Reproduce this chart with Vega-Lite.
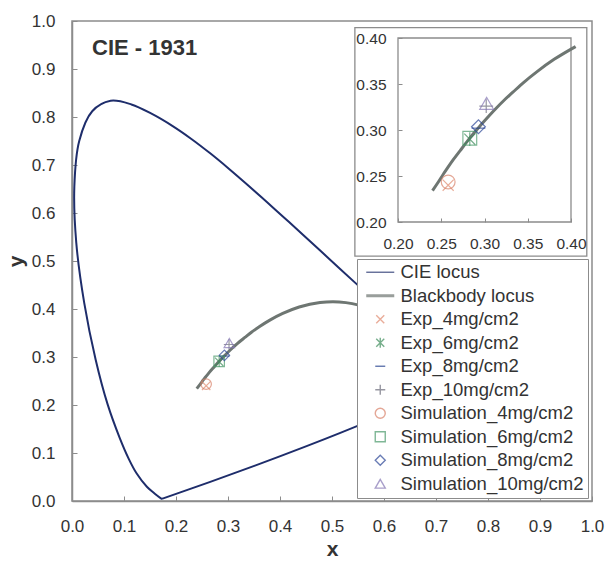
{
  "$schema": "https://vega.github.io/schema/vega-lite/v6.json",
  "autosize": {"type": "none"},
  "width": 520,
  "height": 480,
  "padding": {"left": 72, "top": 21, "right": 13, "bottom": 62},
  "background": "white",
  "title": {"text": "CIE - 1931", "anchor": "start", "frame": "group", "dx": 20, "offset": -65, "baseline": "alphabetic", "fontSize": 22, "fontWeight": "bold", "font": "Liberation Sans", "color": "#333333"},
  "config": {
    "font": "Liberation Sans",
    "view": {"stroke": "#8c8c8c", "strokeWidth": 1.5},
    "axis": {"grid": false, "labelFlush": false, "domainColor": "#8c8c8c", "tickColor": "#8c8c8c", "labelColor": "#333333", "titleColor": "#333333", "labelFont": "Liberation Sans", "titleFont": "Liberation Sans"}
  },
  "datasets": {
    "cie": [
      {"i": 1, "x": 0.1741, "y": 0.0050}, {"i": 2, "x": 0.1714, "y": 0.0051}, {"i": 3, "x": 0.1644, "y": 0.0109},
      {"i": 4, "x": 0.1566, "y": 0.0177}, {"i": 5, "x": 0.1440, "y": 0.0297}, {"i": 6, "x": 0.1241, "y": 0.0578},
      {"i": 7, "x": 0.1096, "y": 0.0868}, {"i": 8, "x": 0.0913, "y": 0.1327}, {"i": 9, "x": 0.0687, "y": 0.2007},
      {"i": 10, "x": 0.0454, "y": 0.2950}, {"i": 11, "x": 0.0235, "y": 0.4127}, {"i": 12, "x": 0.0082, "y": 0.5384},
      {"i": 13, "x": 0.0045, "y": 0.6548}, {"i": 14, "x": 0.0139, "y": 0.7502}, {"i": 15, "x": 0.0389, "y": 0.8120},
      {"i": 16, "x": 0.0743, "y": 0.8338}, {"i": 17, "x": 0.1142, "y": 0.8262}, {"i": 18, "x": 0.1547, "y": 0.8059},
      {"i": 19, "x": 0.1929, "y": 0.7816}, {"i": 20, "x": 0.2296, "y": 0.7543}, {"i": 21, "x": 0.2658, "y": 0.7243},
      {"i": 22, "x": 0.3016, "y": 0.6923}, {"i": 23, "x": 0.3373, "y": 0.6589}, {"i": 24, "x": 0.3731, "y": 0.6245},
      {"i": 25, "x": 0.4087, "y": 0.5896}, {"i": 26, "x": 0.4441, "y": 0.5547}, {"i": 27, "x": 0.4788, "y": 0.5202},
      {"i": 28, "x": 0.5125, "y": 0.4866}, {"i": 29, "x": 0.5448, "y": 0.4544}, {"i": 30, "x": 0.5752, "y": 0.4242},
      {"i": 31, "x": 0.6270, "y": 0.3725}, {"i": 32, "x": 0.6915, "y": 0.3083}, {"i": 33, "x": 0.7347, "y": 0.2653},
      {"i": 34, "x": 0.1741, "y": 0.0050}
    ],
    "bb": [
      {"x": 0.2399, "y": 0.2342}, {"x": 0.2470, "y": 0.2440}, {"x": 0.2525, "y": 0.2522}, {"x": 0.2565, "y": 0.2577},
      {"x": 0.2637, "y": 0.2674}, {"x": 0.2719, "y": 0.2776}, {"x": 0.2807, "y": 0.2884}, {"x": 0.2871, "y": 0.2959},
      {"x": 0.2952, "y": 0.3048}, {"x": 0.3064, "y": 0.3166}, {"x": 0.3135, "y": 0.3237}, {"x": 0.3221, "y": 0.3318},
      {"x": 0.3325, "y": 0.3408}, {"x": 0.3451, "y": 0.3516}, {"x": 0.3608, "y": 0.3635}, {"x": 0.3805, "y": 0.3768},
      {"x": 0.4053, "y": 0.3907}, {"x": 0.4369, "y": 0.4041}, {"x": 0.4770, "y": 0.4137}, {"x": 0.5018, "y": 0.4153},
      {"x": 0.5267, "y": 0.4133}, {"x": 0.5494, "y": 0.4085}, {"x": 0.5857, "y": 0.3931}
    ],
    "pts": [
      {"series": "Exp_4mg/cm2", "x": 0.258, "y": 0.240},
      {"series": "Exp_6mg/cm2", "x": 0.283, "y": 0.290},
      {"series": "Exp_8mg/cm2", "x": 0.293, "y": 0.302},
      {"series": "Exp_10mg/cm2", "x": 0.302, "y": 0.326},
      {"series": "Simulation_4mg/cm2", "x": 0.258, "y": 0.2435},
      {"series": "Simulation_6mg/cm2", "x": 0.283, "y": 0.291},
      {"series": "Simulation_8mg/cm2", "x": 0.293, "y": 0.3035},
      {"series": "Simulation_10mg/cm2", "x": 0.3025, "y": 0.329}
    ],
    "box": [{"x": 0.544, "x2": 0.990, "y": 0.510, "y2": 0.986}],
    "ibox": [{"x": 0.2, "x2": 0.4, "y": 0.2, "y2": 0.4}]
  },
  "layer": [
    {
      "encoding": {
        "x": {"field": "x", "type": "quantitative", "scale": {"domain": [0, 1], "nice": false, "zero": false},
              "axis": {"orient": "bottom", "values": [0, 0.1, 0.2, 0.3, 0.4, 0.5, 0.6, 0.7, 0.8, 0.9, 1.0], "format": ".1f", "tickSize": -5, "labelPadding": 22, "labelFontSize": 17, "title": "x", "titleFontSize": 21, "titleFontWeight": "bold", "titlePadding": 4, "domainWidth": 1.5}},
        "y": {"field": "y", "type": "quantitative", "scale": {"domain": [0, 1], "nice": false, "zero": false},
              "axis": {"orient": "left", "values": [0, 0.1, 0.2, 0.3, 0.4, 0.5, 0.6, 0.7, 0.8, 0.9, 1.0], "format": ".1f", "tickSize": -5, "labelPadding": 22, "labelFontSize": 17, "title": "y", "titleFontSize": 21, "titleFontWeight": "bold", "titlePadding": 5, "domainWidth": 1.5}}
      },
      "layer": [
        {
          "data": {"name": "cie"},
          "transform": [{"calculate": "'CIE locus'", "as": "series"}],
          "mark": {"type": "line", "interpolate": "catmull-rom", "strokeWidth": 2},
          "encoding": {
            "order": {"field": "i", "type": "quantitative"},
            "color": {"field": "series", "type": "nominal"}
          }
        },
        {
          "data": {"name": "bb"},
          "transform": [{"calculate": "'Blackbody locus'", "as": "series"}],
          "mark": {"type": "line", "interpolate": "monotone", "strokeWidth": 3},
          "encoding": {
            "color": {"field": "series", "type": "nominal"}
          }
        },
        {
          "data": {"name": "pts"},
          "mark": {"type": "point", "filled": false, "size": 110, "strokeWidth": 1.2},
          "encoding": {
            "color": {"field": "series", "type": "nominal"},
            "shape": {"field": "series", "type": "nominal"}
          }
        },
        {
          "data": {"name": "box"},
          "mark": {"type": "rect", "fill": "white", "stroke": "#8c8c8c", "strokeWidth": 1.3},
          "encoding": {"x2": {"field": "x2"}, "y2": {"field": "y2"}}
        }
      ]
    },
    {
      "encoding": {
        "x": {"field": "x", "type": "quantitative", "scale": {"domain": [0.2, 0.4], "nice": false, "zero": false, "range": [326, 499]},
              "axis": {"orient": "bottom", "offset": -279, "zindex": 2, "values": [0.2, 0.25, 0.3, 0.35, 0.4], "format": ".2f", "tickSize": -4, "labelPadding": 18, "labelFontSize": 15.5, "title": null, "domain": false}},
        "y": {"field": "y", "type": "quantitative", "scale": {"domain": [0.2, 0.4], "nice": false, "zero": false, "range": [201, 17]},
              "axis": {"orient": "left", "offset": -326, "zindex": 2, "values": [0.2, 0.25, 0.3, 0.35, 0.4], "format": ".2f", "tickSize": -4, "labelPadding": 16, "labelFontSize": 15.5, "title": null, "domain": false}}
      },
      "layer": [
        {
          "data": {"name": "ibox"},
          "mark": {"type": "rect", "fill": null, "stroke": "#8c8c8c", "strokeWidth": 1.3},
          "encoding": {"x2": {"field": "x2"}, "y2": {"field": "y2"}}
        },
        {
          "data": {"name": "bb"},
          "transform": [{"filter": "datum.x <= 0.41"}, {"calculate": "'Blackbody locus'", "as": "series"}],
          "mark": {"type": "line", "interpolate": "monotone", "strokeWidth": 3},
          "encoding": {
            "color": {"field": "series", "type": "nominal"}
          }
        },
        {
          "data": {"name": "pts"},
          "mark": {"type": "point", "filled": false, "size": 190, "strokeWidth": 1.2},
          "encoding": {
            "color": {"field": "series", "type": "nominal",
              "scale": {"domain": ["CIE locus", "Blackbody locus", "Exp_4mg/cm2", "Exp_6mg/cm2", "Exp_8mg/cm2", "Exp_10mg/cm2", "Simulation_4mg/cm2", "Simulation_6mg/cm2", "Simulation_8mg/cm2", "Simulation_10mg/cm2"],
                        "range": ["#1e2d6b", "#6e7672", "#e08a6e", "#3c8c5a", "#1f3d8c", "#6b6b7a", "#d9826a", "#4a9a6a", "#2b4596", "#8577b5"]},
              "legend": {"orient": "none", "legendX": 285, "legendY": 238, "title": null, "padding": 4, "symbolOffset": 10, "labelOffset": 11, "rowPadding": 4.5, "labelFontSize": 18.5, "labelColor": "#333333", "symbolSize": 100, "symbolStrokeWidth": 1.4, "strokeColor": "#8c8c8c", "fillColor": "white", "labelLimit": 300}},
            "shape": {"field": "series", "type": "nominal",
              "scale": {"domain": ["CIE locus", "Blackbody locus", "Exp_4mg/cm2", "Exp_6mg/cm2", "Exp_8mg/cm2", "Exp_10mg/cm2", "Simulation_4mg/cm2", "Simulation_6mg/cm2", "Simulation_8mg/cm2", "Simulation_10mg/cm2"],
                        "range": ["M-2.8,0L2.8,0", "M-2.8,-0.15L2.8,-0.15M-2.8,0L2.8,0M-2.8,0.15L2.8,0.15", "M-0.8,-0.8L0.8,0.8M-0.8,0.8L0.8,-0.8", "M-0.8,-0.8L0.8,0.8M-0.8,0.8L0.8,-0.8M0,-1L0,1", "M-1,0L1,0", "M0,-1L0,1M-1,0L1,0", "circle", "square", "diamond", "triangle-up"]}}
          }
        }
      ]
    }
  ],
  "resolve": {"scale": {"x": "independent", "y": "independent"}}
}
